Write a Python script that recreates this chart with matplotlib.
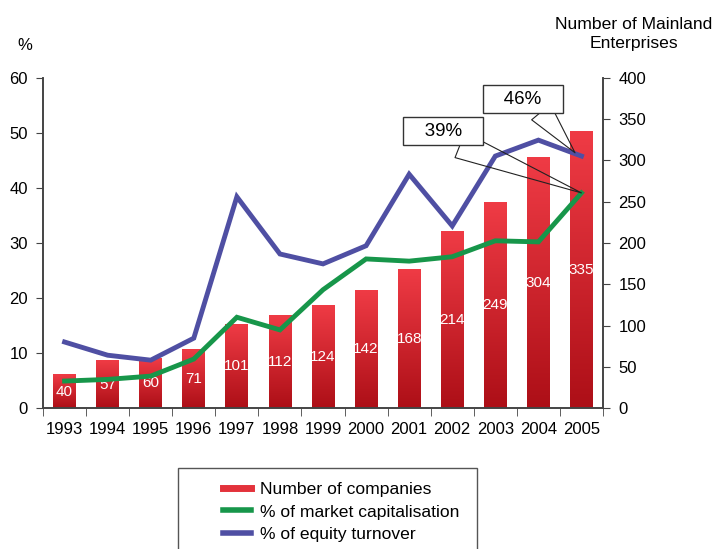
import numpy as np
import matplotlib
matplotlib.use("Agg")
import matplotlib.pyplot as plt
from matplotlib.colors import LinearSegmentedColormap
from matplotlib.lines import Line2D
from matplotlib.patches import Rectangle

plt.rcParams['font.family'] = ['Liberation Sans', 'DejaVu Sans']

years = ['1993', '1994', '1995', '1996', '1997', '1998', '1999',
         '2000', '2001', '2002', '2003', '2004', '2005']
companies = [40, 57, 60, 71, 101, 112, 124, 142, 168, 214, 249, 304, 335]
market_cap = [4.9, 5.2, 5.8, 8.9, 16.5, 14.2, 21.5, 27.1, 26.7, 27.5, 30.4, 30.2, 39.1]
turnover = [12.0, 9.6, 8.7, 12.7, 38.4, 28.0, 26.2, 29.5, 42.5, 33.1, 45.8, 48.7, 45.8]

red = '#e3323b'
green = '#17964a'
blue = '#4f4fa3'
axcol = '#444444'

fig = plt.figure(figsize=(7.22, 5.49), dpi=100)
ax1 = fig.add_axes([0.0596, 0.2568, 0.7756, 0.6012])
ax2 = ax1.twinx()
ax1.set_zorder(ax2.get_zorder() + 1)
ax1.patch.set_visible(False)

x = np.arange(len(years))
bw = 0.53
cmap = LinearSegmentedColormap.from_list('redgrad', ['#ad0f17', '#ef3b45'])
grad = np.linspace(0, 1, 100).reshape(-1, 1)
bars = ax2.bar(x, companies, width=bw, color='none', edgecolor='none')
for b, v in zip(bars, companies):
    x0 = b.get_x()
    ax2.imshow(grad, extent=[x0, x0 + b.get_width(), 0, b.get_height()],
               origin='lower', cmap=cmap, aspect='auto', zorder=1)
    ax2.text(b.get_x() + b.get_width() / 2, v / 2, str(v), color='white',
             ha='center', va='center', fontsize=11, zorder=3)

ax1.plot(x, turnover, color=blue, lw=3.5, solid_joinstyle='miter')
ax1.plot(x, market_cap, color=green, lw=3.5, solid_joinstyle='miter')

ax1.set_xlim(-0.5, len(years) - 0.5)
ax2.set_xlim(-0.5, len(years) - 0.5)
ax1.set_ylim(0, 60)
ax2.set_ylim(0, 400)
ax1.set_yticks(range(0, 61, 10))
ax2.set_yticks(range(0, 401, 50))
ax1.set_xticks(x)
ax1.set_xticklabels(years)
ax1.set_xticks(np.arange(-0.5, len(years)), minor=True)
ax1.tick_params(axis='x', which='major', length=0, pad=10, labelsize=12)
ax1.tick_params(axis='x', which='minor', length=6, color=axcol, direction='out')
ax1.tick_params(axis='y', length=5, color=axcol, labelsize=12, pad=6)
ax2.tick_params(axis='y', length=5, color=axcol, labelsize=12, pad=6)
for a in (ax1, ax2):
    a.spines['top'].set_visible(False)
    for s in ('left', 'right', 'bottom'):
        a.spines[s].set_color(axcol)
        a.spines[s].set_linewidth(1.2)

fig.text(25 / 722, 1 - 45 / 549, '%', fontsize=12, ha='center', va='center')
fig.text(634 / 722, 1 - 34 / 549, 'Number of Mainland\nEnterprises', fontsize=12.6,
         ha='center', va='center', linespacing=1.3)

# callout wedges, then the boxes on top
ax1.annotate('', xy=(x[-1], market_cap[-1]), xytext=(460 / 722, 1 - 145 / 549),
             textcoords='figure fraction',
             arrowprops=dict(arrowstyle='wedge,tail_width=1.5', fc='none', ec='#222222',
                             lw=0.8, shrinkA=0, shrinkB=0), fontsize=13)
ax1.annotate('', xy=(x[-1] - 0.15, turnover[-1] + 0.6), xytext=(541 / 722, 1 - 112 / 549),
             textcoords='figure fraction',
             arrowprops=dict(arrowstyle='wedge,tail_width=1.35', fc='none', ec='#222222',
                             lw=0.8, shrinkA=0, shrinkB=0), fontsize=13)
fig.text(443 / 722, 1 - 131 / 549, '   39%   ', fontsize=13.5, ha='center', va='center',
         bbox=dict(boxstyle='square,pad=0.3', fc='white', ec='#333333', lw=1), zorder=5)
fig.text(523 / 722, 1 - 99 / 549, '   46%   ', fontsize=13.5, ha='center', va='center',
         bbox=dict(boxstyle='square,pad=0.3', fc='white', ec='#333333', lw=1), zorder=5)

fig.patches.append(Rectangle((178 / 722, -0.05), (477 - 178) / 722, 0.05 + 1 - 468 / 549,
                             transform=fig.transFigure, fill=False, ec='#555555', lw=1))
handles = [Line2D([], [], color=red, lw=5),
           Line2D([], [], color=green, lw=4),
           Line2D([], [], color=blue, lw=4)]
labels = ['Number of companies', '% of market capitalisation', '% of equity turnover']
fig.legend(handles, labels, loc='upper left', bbox_to_anchor=(223 / 722, 1 - 482 / 549),
           frameon=False, fontsize=12.6, handlelength=1.6, handletextpad=0.5,
           labelspacing=0.4, borderpad=0, borderaxespad=0)

fig.savefig('out.png', dpi=100)
